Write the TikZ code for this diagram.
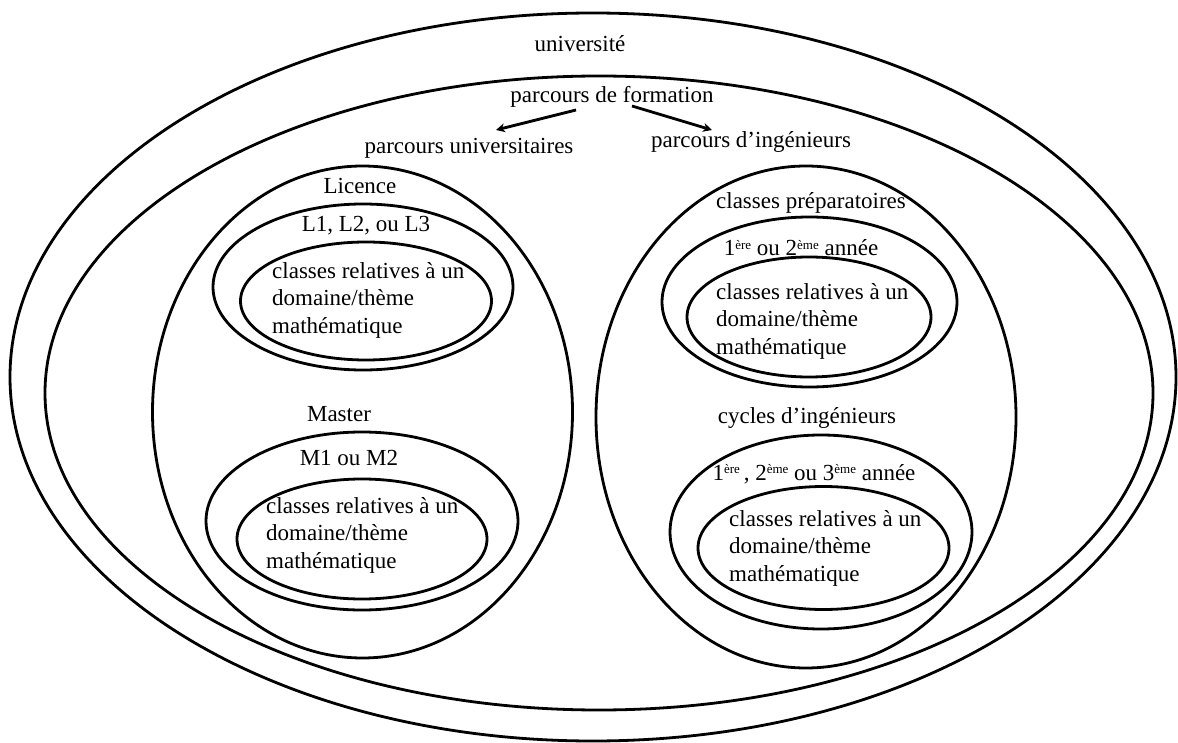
\documentclass[tikz,border=0pt]{standalone}
\usepackage{fontspec}
\setmainfont{Liberation Serif}
\usetikzlibrary{arrows.meta}
\newcommand\mysup[1]{\raisebox{0.62ex}{\fontsize{13}{13}\selectfont #1}}
\begin{document}
\begin{tikzpicture}[x=1pt,y=-1pt,
  ring/.style={line width=2.8pt},
  lbl/.style={inner sep=0pt,font=\fontsize{23}{27.5}\selectfont},
  blk/.style={lbl,align=left,anchor=west},
  arr/.style={line width=2.8pt,-{Stealth[length=9pt,width=9pt]}}]
\useasboundingbox[fill=white] (0,0) rectangle (1178,743);
% ellipses
\draw[ring] (593,377) ellipse [x radius=583,y radius=364];
\draw[ring] (599,393) ellipse [x radius=554,y radius=317];
\draw[ring] (362.5,412) ellipse [x radius=210,y radius=246];
\draw[ring] (806,417) ellipse [x radius=210,y radius=251];
\draw[ring] (363,287) ellipse [x radius=150,y radius=83];
\draw[ring] (366,301) ellipse [x radius=125.5,y radius=59];
\draw[ring] (362,521) ellipse [x radius=156,y radius=89];
\draw[ring] (362,539) ellipse [x radius=125,y radius=60];
\draw[ring] (809.5,302) ellipse [x radius=147.5,y radius=85];
\draw[ring] (809,317) ellipse [x radius=122,y radius=60];
\draw[ring] (821,532) ellipse [x radius=151,y radius=97];
\draw[ring] (823.5,548) ellipse [x radius=125.5,y radius=61.5];
% texts
\node[lbl] (univ) at (580,44) {université};
\node[lbl] (form) at (612,97) {parcours de formation};
\node[lbl] (pu) at (469,148) {parcours universitaires};
\node[lbl] (pi) at (751,142) {parcours d’ingénieurs};
\node[lbl] (lic) at (360,186) {Licence};
\node[lbl] (l123) at (366,226) {L1, L2, ou L3};
\node[blk] (cl1) at (272,300) {classes relatives à un\\domaine/thème\\mathématique};
\node[lbl] (mas) at (339,414) {Master};
\node[lbl] (m12) at (349,458) {M1 ou M2};
\node[blk] (cl2) at (266,535) {classes relatives à un\\domaine/thème\\mathématique};
\node[lbl] (prep) at (811,203) {classes préparatoires};
\node[lbl] (an12) at (801,248) {1\mysup{ère} ou 2\mysup{ème} année};
\node[blk] (cl3) at (716,321) {classes relatives à un\\domaine/thème\\mathématique};
\node[lbl] (cyc) at (807,418) {cycles d’ingénieurs};
\node[lbl] (an123) at (814,474) {1\mysup{ère}\,, 2\mysup{ème} ou 3\mysup{ème} année};
\node[blk] (cl4) at (729,548) {classes relatives à un\\domaine/thème\\mathématique};
% arrows
\coordinate (a1s) at (576,110);
\coordinate (a1e) at (496,130);
\coordinate (a2s) at (632,106);
\coordinate (a2e) at (712,130);
\draw[arr] (a1s) -- (a1e);
\draw[arr] (a2s) -- (a2e);
\end{tikzpicture}
\end{document}
